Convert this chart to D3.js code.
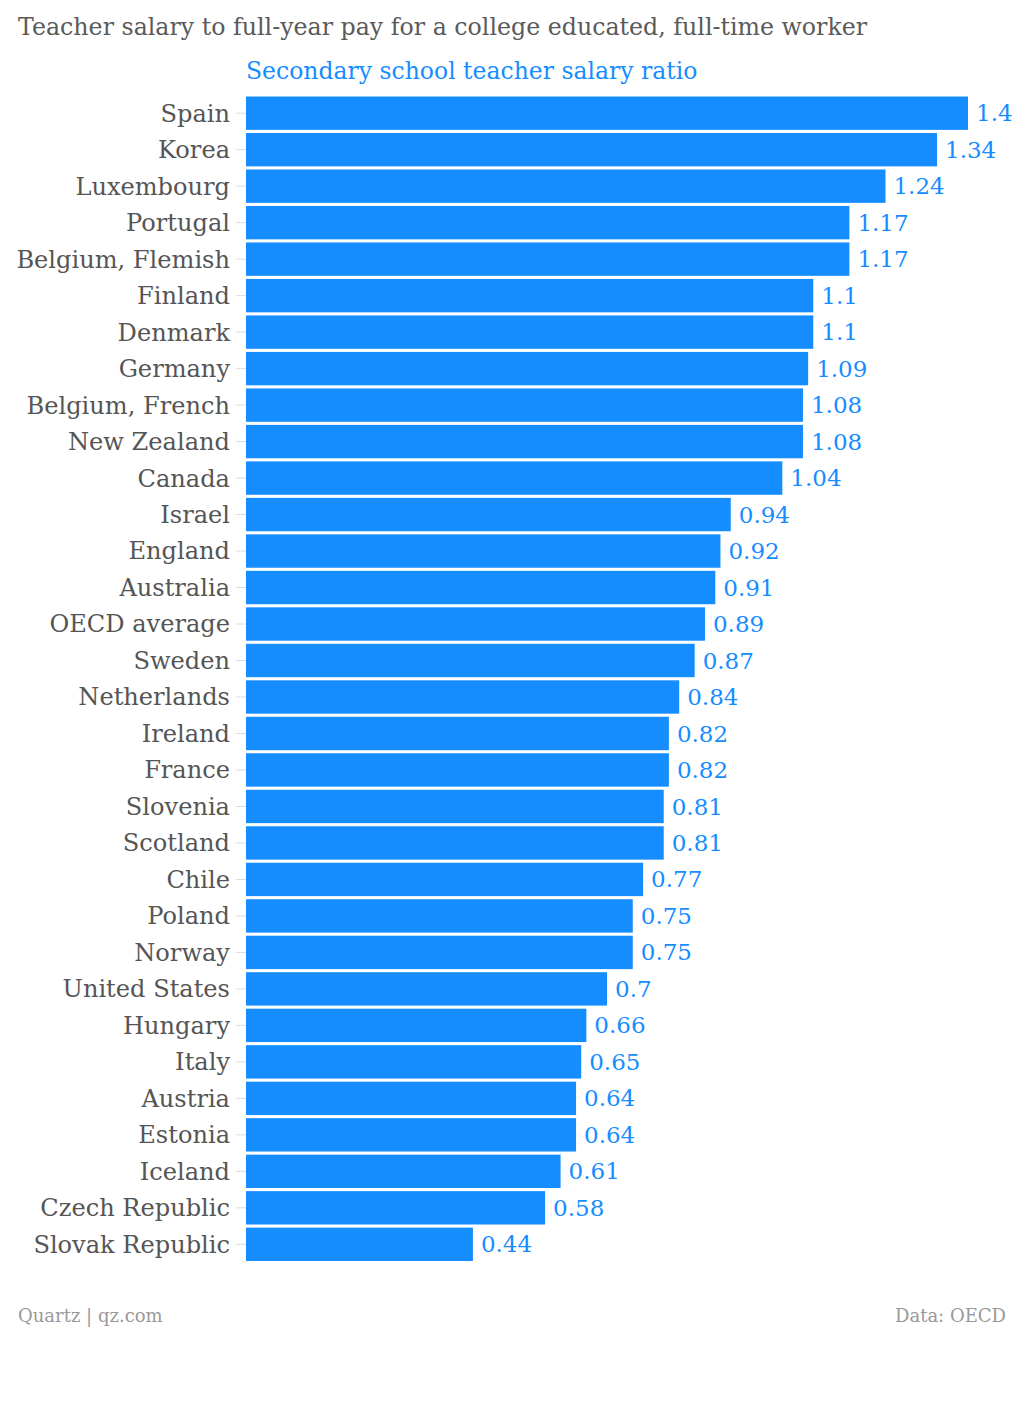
<!DOCTYPE html>
<html>
<head>
<meta charset="utf-8">
<script src="https://cdn.jsdelivr.net/npm/d3@7"></script>
<style>
  body { margin: 0; background: #fff; }
  text { font-family: "DejaVu Serif", "Liberation Serif", serif; }
</style>
</head>
<body>
<div id="chart"></div>
<script>
var width = 1024
var height = 1401

// data
var countries = ["Spain", "Korea", "Luxembourg", "Portugal", "Belgium, Flemish", "Finland", "Denmark",
  "Germany", "Belgium, French", "New Zealand", "Canada", "Israel", "England", "Australia", "OECD average",
  "Sweden", "Netherlands", "Ireland", "France", "Slovenia", "Scotland", "Chile", "Poland", "Norway",
  "United States", "Hungary", "Italy", "Austria", "Estonia", "Iceland", "Czech Republic", "Slovak Republic"]
var ratios = [1.4, 1.34, 1.24, 1.17, 1.17, 1.1, 1.1, 1.09, 1.08, 1.08, 1.04, 0.94, 0.92, 0.91, 0.89,
  0.87, 0.84, 0.82, 0.82, 0.81, 0.81, 0.77, 0.75, 0.75, 0.7, 0.66, 0.65, 0.64, 0.64, 0.61, 0.58, 0.44]

var blue = "#168dff"

var svg = d3.select("#chart")
  .append("svg")
  .attr("width", width)
  .attr("height", height)

var x = d3.scaleLinear()
  .domain([0, 1.4])
  .range([246, 968])

var y = d3.scaleBand()
  .domain(countries)
  .range([96.5, 1261])
  .paddingInner(0.085)
  .paddingOuter(0)

// title + subtitle
svg.append("text")
  .attr("x", 18).attr("y", 35)
  .attr("fill", "#5a5a5a")
  .style("font-size", "23.7px")
  .text("Teacher salary to full-year pay for a college educated, full-time worker")

svg.append("text")
  .attr("x", 246).attr("y", 79)
  .attr("fill", blue)
  .style("font-size", "23.5px")
  .text("Secondary school teacher salary ratio")

// little tick lines next to the labels
svg.selectAll("line.tick")
  .data(countries)
  .enter()
  .append("line")
  .attr("class", "tick")
  .attr("x1", 236).attr("x2", 246)
  .attr("y1", function(d) { return y(d) + y.bandwidth() / 2 })
  .attr("y2", function(d) { return y(d) + y.bandwidth() / 2 })
  .attr("stroke", "#ddd")
  .attr("stroke-width", 1)

svg.selectAll("rect.bar")
  .data(countries)
  .enter()
  .append("rect")
  .attr("class", "bar")
  .attr("x", x(0))
  .attr("y", function(d) { return y(d) })
  .attr("width", function(d, i) { return x(ratios[i]) - x(0) })
  .attr("height", y.bandwidth())
  .attr("fill", blue)

// category labels
svg.selectAll("text.label")
  .data(countries)
  .enter()
  .append("text")
  .attr("class", "label")
  .attr("x", 230)
  .attr("y", function(d) { return y(d) + y.bandwidth() / 2 })
  .attr("dy", "0.35em")
  .attr("text-anchor", "end")
  .attr("fill", "#555")
  .style("font-size", "24.1px")
  .text(function(d) { return d })

// value labels
svg.selectAll("text.value")
  .data(countries)
  .enter()
  .append("text")
  .attr("class", "value")
  .attr("x", function(d, i) { return x(ratios[i]) + 8 })
  .attr("y", function(d) { return y(d) + y.bandwidth() / 2 })
  .attr("dy", "0.35em")
  .attr("fill", blue)
  .style("font-size", "23px")
  .text(function(d, i) { return ratios[i] })

// footer
svg.append("text")
  .attr("x", 18).attr("y", 1322)
  .attr("fill", "#999")
  .style("font-size", "18px")
  .text("Quartz | qz.com")

svg.append("text")
  .attr("x", 1006).attr("y", 1322)
  .attr("text-anchor", "end")
  .attr("fill", "#999")
  .style("font-size", "18px")
  .text("Data: OECD")
</script>
</body>
</html>
